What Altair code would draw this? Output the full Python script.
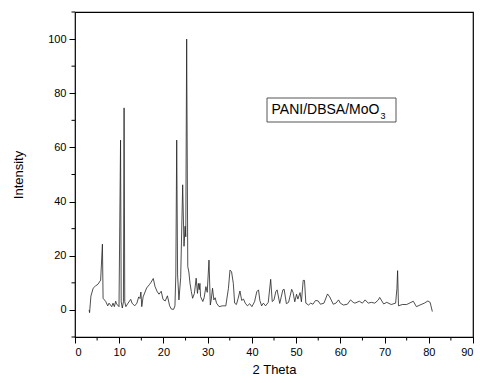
import altair as alt
import pandas as pd

two_theta = [3.2, 3.3, 3.6, 4.1, 4.6, 5.2, 5.8, 6.2, 6.35, 6.95, 7.4, 7.7, 8.3, 8.6, 8.9, 9.2, 9.4, 9.95,
             10.3, 10.45, 10.7, 10.95, 11.1, 11.25, 11.5, 12.0, 12.6, 12.9, 13.5, 14.0, 14.4, 14.7, 14.9,
             15.1, 15.4, 16.2, 16.8, 17.2, 17.7, 18.1, 18.6, 19.0, 19.5, 19.9, 20.4, 20.9, 21.4, 21.8,
             22.3, 22.6, 22.8, 23.0, 23.2, 23.5, 23.9, 24.35, 24.65, 24.9, 25.05, 25.25, 25.5, 25.75,
             26.0, 26.3, 26.6, 27.0, 27.4, 27.7, 27.9, 28.1, 28.25, 28.4, 28.9, 29.2, 29.6, 29.9, 30.3,
             30.6, 30.8, 31.1, 31.4, 31.7, 32.0, 32.6, 33.3, 34.1, 34.7, 35.05, 35.4, 35.8, 36.1, 36.5,
             36.9, 37.3, 37.7, 38.1, 38.5, 39.0, 39.5, 40.0, 40.6, 41.1, 41.5, 41.8, 42.2, 42.6, 43.1,
             43.7, 44.25, 44.6, 45.0, 45.4, 45.7, 46.3, 47.0, 47.3, 47.8, 48.3, 49.0, 49.3, 49.7, 50.1,
             50.4, 50.9, 51.2, 51.6, 51.9, 52.2, 52.8, 53.3, 53.8, 54.4, 55.0, 55.5, 56.3, 57.1, 57.6,
             58.4, 59.0, 59.6, 60.0, 60.7, 61.6, 62.3, 62.9, 63.3, 64.3, 65.0, 65.6, 66.3, 67.0, 67.8,
             68.6, 68.9, 69.8, 70.5, 71.5, 72.5, 72.8, 72.95, 73.15, 74.0, 75.0, 76.5, 77.2, 78.0, 79.0,
             79.8, 80.3, 80.5, 80.8]
intensity = [0, -1, 5.1, 8, 8.8, 9.5, 11, 24.3, 4.3, 3.1, 1.5, 2.5, 1.2, 2.5, 1.2, 3.2, 2.2, 1.2,
             62.7, 3, 0.7, 3, 74.6, 3, 1.2, 2.5, 3.9, 2.5, 1.5, 2.5, 4.8, 4.2, 6.6,
             1.2, 4.8, 8.1, 9.3, 10.2, 11.6, 8.6, 6.7, 5.8, 6.9, 3.9, 3.3, 5.2, 1.5, 0.3,
             0.2, 1.5, 12.9, 62.7, 12.9, 3.7, 12, 46.2, 23.5, 30.9, 27, 100, 16, 14,
             9.9, 6.8, 4.3, 6.1, 11.7, 6.1, 9.8, 7.5, 9.8, 4.9, 3.1, 4.5, 8.6, 6.5, 18.4,
             1.8, 3.7, 8.0, 3.7, 4.5, 2.5, 1.2, 1.5, 1.5, 8.0, 14.7, 14.1, 9.8, 2.5, 2,
             4.3, 7.0, 3.5, 4, 2.5, 1.5, 2.3, 1.2, 3, 6.7, 7.4, 3.5, 1.5, 2.5, 1.5,
             2.8, 11.3, 3.1, 3.7, 6.7, 7.4, 2.4, 7.4, 7.6, 2.3, 2.8, 7.6, 6.5, 3, 5.8,
             4, 6.4, 3, 10.9, 10.9, 2.5, 1.8, 2.5, 2.1, 3.5, 3.3, 2.1, 2.5, 5.9, 4.8,
             2.1, 2.5, 3.7, 2.5, 1.8, 2.1, 3.7, 2.8, 2.5, 3.2, 2.5, 3.7, 2.5, 2.8, 2.5,
             3.7, 4.6, 2.2, 2.8, 2, 2.5, 8, 14.5, 1.5, 2, 2, 3.2, 1.2, 1.8, 2.5,
             3.3, 2.8, 1.5, -0.6]

x_major = [0, 10, 20, 30, 40, 50, 60, 70, 80, 90]
x_minor = [5, 15, 25, 35, 45, 55, 65, 75, 85]
y_major = [0, 20, 40, 60, 80, 100]
y_minor = [-10, 10, 30, 50, 70, 90, 110]
label_main = "PANI/DBSA/MoO"
label_sub = "3"

FONT = "Liberation Sans"
W, H = 398, 325

df = pd.DataFrame({"x": two_theta, "y": intensity})
xs = alt.Scale(domain=[0, 90], nice=False, zero=False)
ys = alt.Scale(domain=[-10, 110], nice=False, zero=False)

line = alt.Chart(df).mark_line(color="#222222", strokeWidth=0.8).encode(
    x=alt.X("x:Q", scale=xs, title="2 Theta",
            axis=alt.Axis(values=x_major, tickSize=6, tickColor="black", tickWidth=1,
                          domain=False, grid=False, labelFont=FONT, labelFontSize=11,
                          labelColor="black", labelPadding=3, titleFont=FONT, titleFontSize=13,
                          titleFontWeight="normal", titleColor="black", titlePadding=6)),
    y=alt.Y("y:Q", scale=ys, title="Intensity",
            axis=alt.Axis(values=y_major, tickSize=6, tickColor="black", tickWidth=1,
                          domain=False, grid=False, labelFont=FONT, labelFontSize=11,
                          labelColor="black", labelPadding=3, titleFont=FONT, titleFontSize=13,
                          titleFontWeight="normal", titleColor="black", titlePadding=22)),
)

xminor = alt.Chart(pd.DataFrame({"v": x_minor})).mark_rule(color="black", strokeWidth=1).encode(
    x=alt.X("v:Q", scale=xs), y=alt.value(H), y2=alt.value(H + 3.5))
yminor = alt.Chart(pd.DataFrame({"v": y_minor})).mark_rule(color="black", strokeWidth=1).encode(
    y=alt.Y("v:Q", scale=ys), x=alt.value(0), x2=alt.value(-3.5))

box = alt.Chart(pd.DataFrame({"t": [label_main]})).mark_rect(
    fill="white", stroke="#555555", strokeWidth=1).encode(
    x=alt.value(192), x2=alt.value(321), y=alt.value(86), y2=alt.value(110))
txt = alt.Chart(pd.DataFrame({"t": [label_main]})).mark_text(
    font=FONT, fontSize=14, color="black", align="left", baseline="alphabetic").encode(
    text="t:N", x=alt.value(196.5), y=alt.value(101.5))
sub = alt.Chart(pd.DataFrame({"t": [label_sub]})).mark_text(
    font=FONT, fontSize=9, color="black", align="left", baseline="alphabetic").encode(
    text="t:N", x=alt.value(305.5), y=alt.value(107))

chart = alt.layer(line, xminor, yminor, box, txt, sub).properties(
    width=W, height=H,
    background="white",
    autosize=alt.AutoSizeParams(type="none"),
    padding={"left": 75, "top": 12, "right": 7, "bottom": 46},
).configure_view(stroke="black", strokeWidth=1.2)

chart.save("out.html", embed_options={"renderer": "svg", "actions": False})
